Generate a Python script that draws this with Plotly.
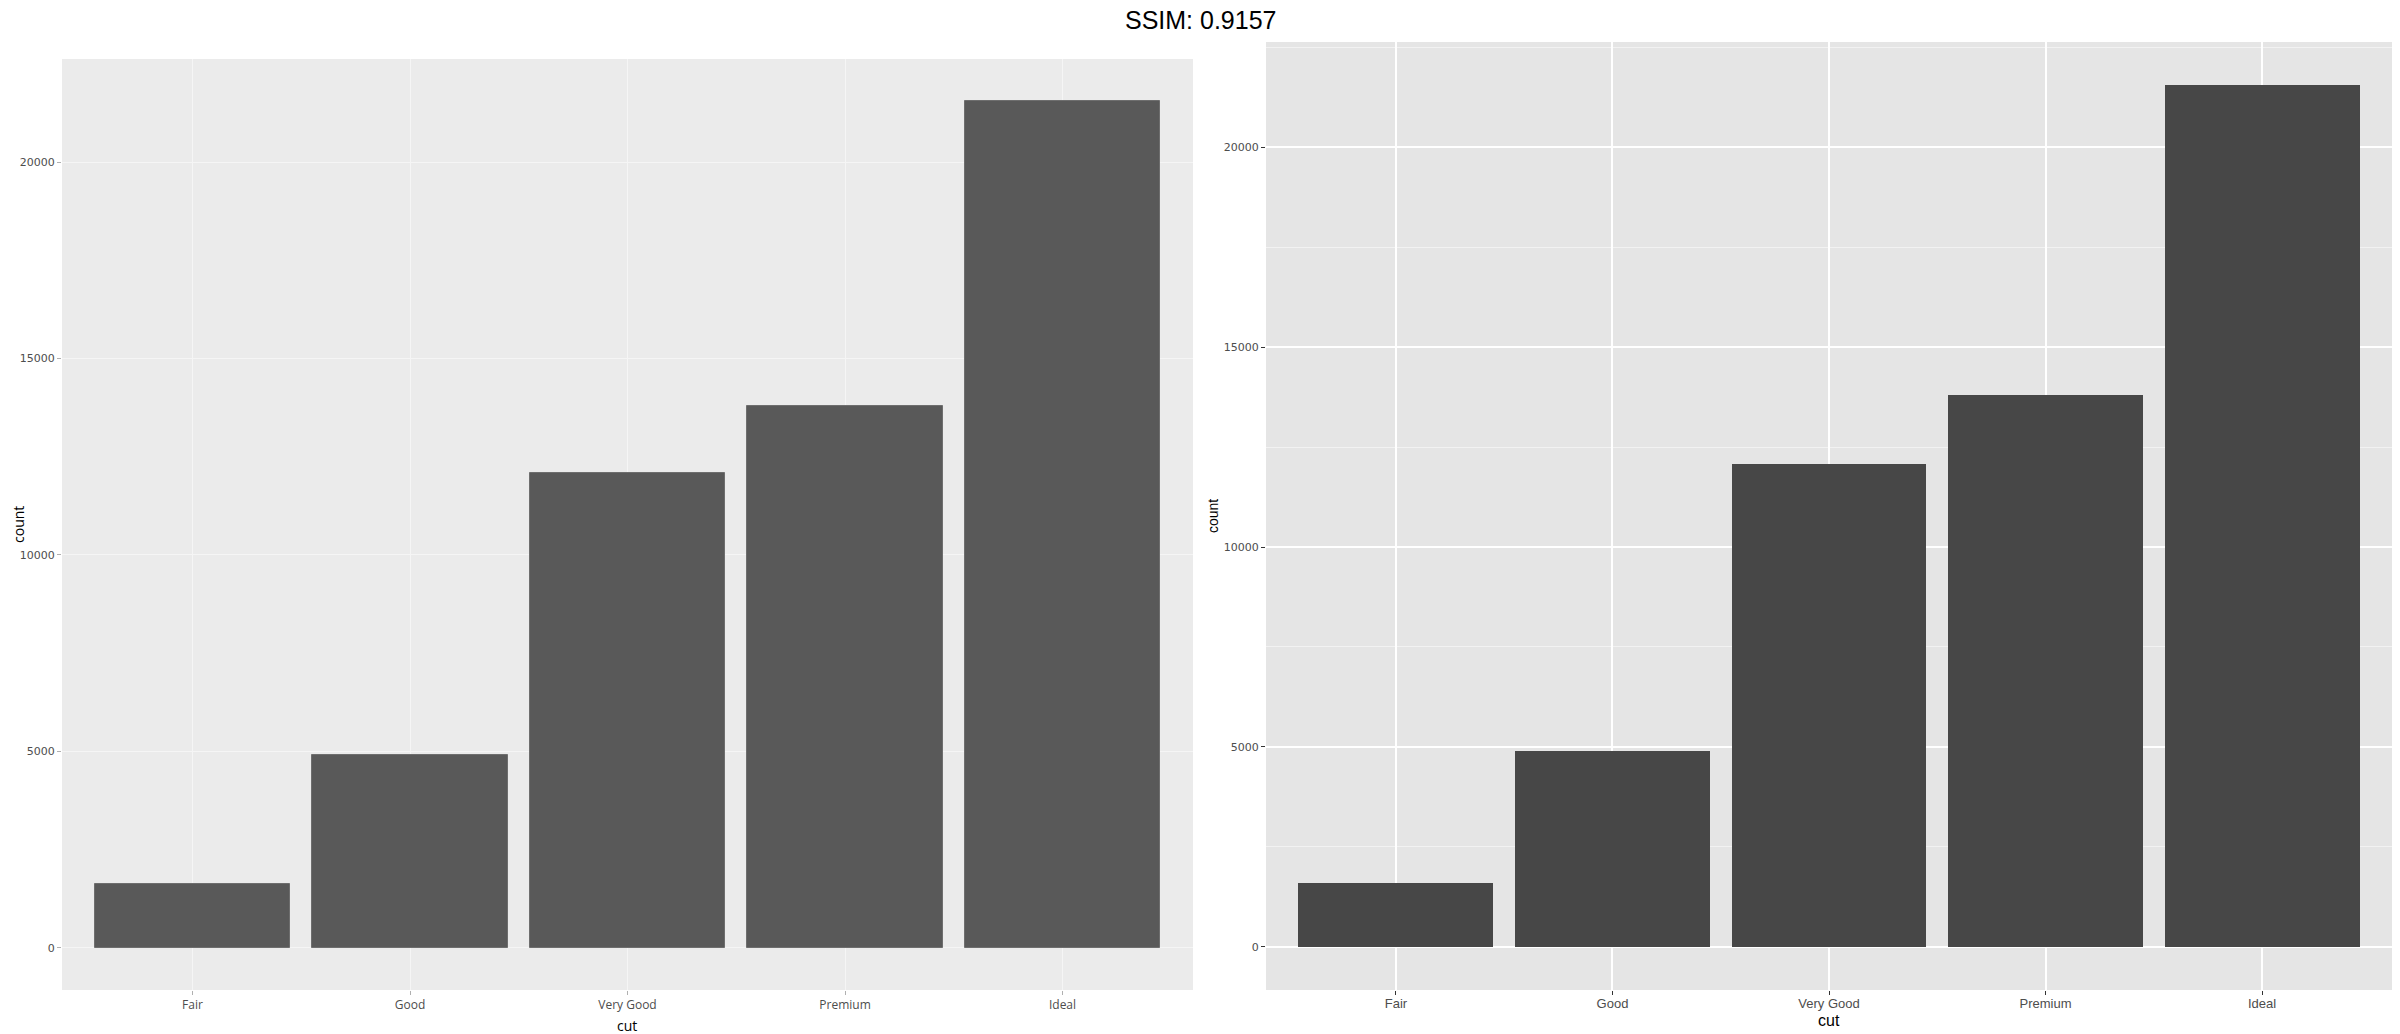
import plotly.graph_objects as go

cuts = ["Fair", "Good", "Very Good", "Premium", "Ideal"]
counts = [1610, 4906, 12082, 13791, 21551]
y_ticks = [0, 5000, 10000, 15000, 20000]
title_text = "SSIM: 0.9157"

W, H = 2400, 1034

def fx(px):
    return px / W

def fy(py):
    return 1 - py / H

ymax = max(counts)
yr = [-0.05 * ymax, 1.05 * ymax]
xr = [-0.6, len(cuts) - 0.4]

fig = go.Figure()

fig.add_trace(go.Bar(x=cuts, y=counts, width=0.9, marker=dict(color="#595959", line=dict(color="#6e6e6e", width=1)),
                     xaxis="x", yaxis="y", showlegend=False))
fig.add_trace(go.Bar(x=cuts, y=counts, width=0.9, marker=dict(color="#474747", line=dict(width=0)),
                     xaxis="x2", yaxis="y2", showlegend=False))

tickfont_left_y = dict(family="DejaVu Sans", size=11, color="#4d4d4d")
tickfont_left_x = dict(family="Open Sans", size=12, color="#4d4d4d")
tickfont_right = dict(family="Liberation Sans", size=13, color="#4d4d4d")

fig.update_layout(
    width=W, height=H,
    margin=dict(l=0, r=0, t=0, b=0),
    paper_bgcolor="white",
    plot_bgcolor="white",
    bargap=0,
    xaxis=dict(domain=[fx(62), fx(1193)], anchor="y", type="category", range=xr,
               showgrid=True, gridcolor="#f5f5f5", gridwidth=1, zeroline=False,
               ticks="outside", ticklen=4, tickcolor="#b0b0b0", tickfont=tickfont_left_x, showline=False),
    yaxis=dict(domain=[fy(990), fy(59)], anchor="x", range=yr, tickvals=y_ticks,
               ticktext=[str(v) for v in y_ticks],
               showgrid=True, gridcolor="#f5f5f5", gridwidth=1, zeroline=False,
               ticks="outside", ticklen=4, tickcolor="#b0b0b0", tickfont=tickfont_left_y, showline=False),
    xaxis2=dict(domain=[fx(1266), fx(2392)], anchor="y2", type="category", range=xr,
                showgrid=True, gridcolor="white", gridwidth=2, zeroline=False,
                ticks="outside", ticklen=4, tickcolor="#333333", tickfont=tickfont_right, showline=False,
                ticklabelstandoff=-3),
    yaxis2=dict(domain=[fy(990), fy(42)], anchor="x2", range=yr, tickvals=y_ticks,
                ticktext=[str(v) for v in y_ticks],
                showgrid=True, gridcolor="white", gridwidth=2, zeroline=False,
                minor=dict(dtick=2500, tick0=2500, showgrid=True, gridcolor="#f2f2f2", gridwidth=1, ticks=""),
                ticks="outside", ticklen=4, tickcolor="#333333",
                tickfont=dict(family="DejaVu Sans", size=11, color="#4d4d4d"), showline=False),
    shapes=[
        dict(type="rect", xref="paper", yref="paper", x0=fx(62), x1=fx(1193), y0=fy(990), y1=fy(59),
             fillcolor="#ebebeb", line=dict(width=0), layer="below"),
        dict(type="rect", xref="paper", yref="paper", x0=fx(1266), x1=fx(2392), y0=fy(990), y1=fy(42),
             fillcolor="#e5e5e5", line=dict(width=0), layer="below"),
    ],
    annotations=[
        dict(text=title_text, xref="paper", yref="paper", x=0.5, y=fy(20), showarrow=False,
             font=dict(family="Liberation Sans", size=25, color="black"), xanchor="center", yanchor="middle"),
        dict(text="cut", xref="paper", yref="paper", x=fx(627), y=fy(1025), showarrow=False,
             font=dict(family="Open Sans", size=14, color="black"), xanchor="center", yanchor="middle"),
        dict(text="count", xref="paper", yref="paper", x=fx(18), y=fy(525), showarrow=False, textangle=-90,
             font=dict(family="Open Sans", size=14, color="black"), xanchor="center", yanchor="middle"),
        dict(text="cut", xref="paper", yref="paper", x=fx(1829), y=fy(1020), showarrow=False,
             font=dict(family="Liberation Sans", size=16, color="black"), xanchor="center", yanchor="middle"),
        dict(text="count", xref="paper", yref="paper", x=fx(1213), y=fy(516), showarrow=False, textangle=-90,
             font=dict(family="Liberation Sans", size=14, color="black"), xanchor="center", yanchor="middle"),
    ],
)

fig.write_html("out.html", config={"displayModeBar": False},
               post_script="document.body.style.margin='0px';document.body.style.overflow='hidden';")
